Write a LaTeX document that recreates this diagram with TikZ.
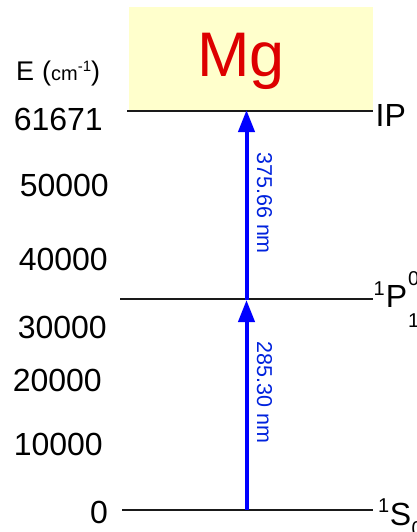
\documentclass[tikz,border=0pt]{standalone}
\usepackage{fontspec}
\setmainfont{Liberation Sans}
\usetikzlibrary{arrows.meta}
\definecolor{mgred}{HTML}{DD0000}
\definecolor{paleyellow}{HTML}{FFFFCC}
\definecolor{levelgray}{HTML}{1A1A1A}
\definecolor{photonblue}{HTML}{0000FF}
\definecolor{labelblue}{HTML}{0022DD}
\newcommand{\bigfont}{\fontsize{32}{36}\selectfont}
\newcommand{\idxfont}{\fontsize{20}{22}\selectfont}

\begin{document}
\begin{tikzpicture}[x=1pt,y=-1pt,
    level/.style={line width=2.5pt,levelgray},
    photon/.style={line width=4pt,photonblue,-{Triangle[length=22pt,width=16pt]}},
    tick/.style={anchor=base east,inner sep=0pt,font=\bigfont},
    wavelength/.style={anchor=south,inner sep=0pt,outer sep=10.5pt,rotate=-90,labelblue,font=\fontsize{21.5}{24}\selectfont},
    term/.style={anchor=base west,inner sep=0pt,font=\bigfont}]

      \useasboundingbox (0,0) rectangle (417,532);
      \clip (0,0) rectangle (417,532);

      % element box
      \fill [paleyellow] (129,7) rectangle (373,111);
      \node [anchor=base,inner sep=0pt,mgred,font=\fontsize{63}{70}\selectfont] (mg) at (241,77) {Mg};

      % energy scale
      \node [anchor=base west,inner sep=0pt,font=\fontsize{27}{30}\selectfont] (eaxis) at (16,80.5)
        {E\hspace{8pt}({\fontsize{20}{22}\selectfont cm\raisebox{9pt}{\fontsize{15}{16}\selectfont -1}})};
      \node [tick] (t61671) at (103,130) {61671};
      \node [tick] (t50000) at (109,196) {50000};
      \node [tick] (t40000) at (108,270) {40000};
      \node [tick] (t30000) at (107,338) {30000};
      \node [tick] (t20000) at (102,391) {20000};
      \node [tick] (t10000) at (103,455) {10000};
      \node [tick] (t0) at (108,523) {0};

      % levels
      \coordinate (ipl) at (127,111);
      \coordinate (ipr) at (373,111);
      \coordinate (pl) at (120,299);
      \coordinate (pr) at (373,299);
      \coordinate (sl) at (122,510);
      \coordinate (sr) at (373,510);
      \draw [level] (ipl) -- (ipr);
      \draw [level] (pl) -- (pr);
      \draw [level] (sl) -- (sr);

      \node [term] (ip) at (375.5,126) {IP};
      \node [term] (p1) at (373.5,307)
        {\raisebox{12pt}{\idxfont 1}\hspace{1pt}P\hspace{1pt}\rlap{\raisebox{-20pt}{\idxfont 1}}\raisebox{22pt}{\idxfont 0}};
      \node [term] (s0) at (378,525)
        {\raisebox{13pt}{\idxfont 1}\hspace{0.5pt}S\hspace{0.5pt}\raisebox{-10pt}{\idxfont 0}};

      % transitions
      \coordinate (g) at (246.5,510);
      \coordinate (e) at (246.5,300);
      \coordinate (i) at (246.5,110);
      \draw [photon] (g) -- (e) node [wavelength,pos=0.56] (lam1) {285.30 nm};
      \draw [photon] (e) -- (i) node [wavelength,pos=0.51] (lam2) {375.66 nm};

\end{tikzpicture}
\end{document}
